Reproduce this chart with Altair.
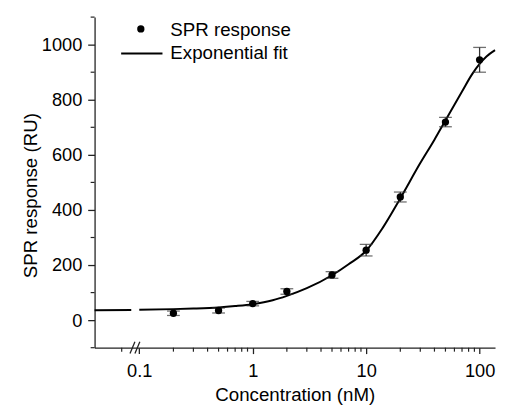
import altair as alt
import pandas as pd

# --- measured data ---
conc = [0.2, 0.5, 1, 2, 5, 10, 20, 50, 100]
resp = [25, 35, 60, 104, 164, 254, 447, 719, 945]
err = [8, 9, 8, 10, 12, 21, 18, 17, 45]

# exponential fit curve (two pieces around the axis break)
fit_x = [0.0404, 0.085,
         0.1, 0.2, 0.3, 0.5, 0.7, 1, 1.5, 2, 3, 5, 7, 10, 14, 20, 30, 40, 50, 70, 86, 100, 115, 136.8]
fit_y = [36, 37,
         38, 40, 42, 46, 51, 58, 72, 88, 116, 163, 203, 252, 335, 442, 570, 655, 725, 830, 893, 930, 957, 980]
fit_seg = ["a", "a"] + ["b"] * 22

x_major = [0.1, 1, 10, 100]
x_minor = [0.07, 0.2, 0.3, 0.4, 0.5, 0.6, 0.7, 0.8, 0.9,
           2, 3, 4, 5, 6, 7, 8, 9, 20, 30, 40, 50, 60, 70, 80, 90]
y_major = [0, 200, 400, 600, 800, 1000]
y_minor = [-100, 100, 300, 500, 700, 900, 1100]

W, H = 407, 336
FONT = "Liberation Sans"
AX = "#222222"

pts = pd.DataFrame({"conc": conc, "resp": resp, "err": err})
pts["lo"] = pts["resp"] - pts["err"]
pts["hi"] = pts["resp"] + pts["err"]
fit = pd.DataFrame({"conc": fit_x, "resp": fit_y, "seg": fit_seg})
xmin_df = pd.DataFrame({"v": x_minor})
ymin_df = pd.DataFrame({"v": y_minor})
one = pd.DataFrame({"a": [0]})

xscale = alt.Scale(type="log", domain=[0.04037, 136.8], nice=False)
yscale = alt.Scale(domain=[-100, 1100], nice=False)

xaxis = alt.Axis(values=x_major, format="~g", title="Concentration (nM)",
                 tickSize=6, labelPadding=8, titlePadding=6, grid=False)
yaxis = alt.Axis(values=y_major, format="d", title="SPR response (RU)", tickSize=7,
                 labelPadding=6, titlePadding=1, grid=False, titleY=181)

X = alt.X("conc:Q", scale=xscale, axis=xaxis)
Y = alt.Y("resp:Q", scale=yscale, axis=yaxis)

line = alt.Chart(fit).mark_line(color="black", strokeWidth=2, interpolate="monotone").encode(
    x=X, y=Y, detail="seg:N")

bars = alt.Chart(pts).mark_rule(color="#333333", strokeWidth=1.3).encode(
    x=alt.X("conc:Q", scale=xscale), y=alt.Y("lo:Q", scale=yscale), y2="hi:Q")
cap_hi = alt.Chart(pts).mark_tick(orient="horizontal", size=13, thickness=1.3, color="#333333").encode(
    x=alt.X("conc:Q", scale=xscale), y=alt.Y("hi:Q", scale=yscale))
cap_lo = alt.Chart(pts).mark_tick(orient="horizontal", size=13, thickness=1.3, color="#333333").encode(
    x=alt.X("conc:Q", scale=xscale), y=alt.Y("lo:Q", scale=yscale))
dots = alt.Chart(pts).mark_circle(size=55, color="black", opacity=1).encode(
    x=alt.X("conc:Q", scale=xscale), y=alt.Y("resp:Q", scale=yscale))

xminor = alt.Chart(xmin_df).mark_rule(color=AX, strokeWidth=1.2).encode(
    x=alt.X("v:Q", scale=xscale), y=alt.value(H), y2=alt.value(H + 4))
yminor = alt.Chart(ymin_df).mark_rule(color=AX, strokeWidth=1.2).encode(
    y=alt.Y("v:Q", scale=yscale), x=alt.value(-4), x2=alt.value(0))

brk1 = alt.Chart(one).mark_rule(color=AX, strokeWidth=1.3).encode(
    x=alt.value(36), x2=alt.value(41), y=alt.value(H + 6), y2=alt.value(H - 6))
brk2 = alt.Chart(one).mark_rule(color=AX, strokeWidth=1.3).encode(
    x=alt.value(41), x2=alt.value(46), y=alt.value(H + 6), y2=alt.value(H - 6))

leg_dot = alt.Chart(one).mark_circle(size=55, color="black", opacity=1).encode(
    x=alt.value(47), y=alt.value(12))
leg_t1 = alt.Chart(one).mark_text(align="left", baseline="middle", fontSize=19, font=FONT,
                                  color="black").encode(
    x=alt.value(77), y=alt.value(13), text=alt.value("SPR response"))
leg_line = alt.Chart(one).mark_rule(color="black", strokeWidth=2).encode(
    x=alt.value(27), x2=alt.value(69), y=alt.value(37))
leg_t2 = alt.Chart(one).mark_text(align="left", baseline="middle", fontSize=19, font=FONT,
                                  color="black").encode(
    x=alt.value(77), y=alt.value(37), text=alt.value("Exponential fit"))

chart = alt.layer(
    line, bars, cap_hi, cap_lo, dots, xminor, yminor, brk1, brk2,
    leg_dot, leg_t1, leg_line, leg_t2
).properties(
    width=W, height=H,
    autosize=alt.AutoSizeParams(type="none"),
    padding={"left": 88, "top": 6, "right": 2, "bottom": 56},
).configure_view(stroke=None).configure_axis(
    labelFont=FONT, titleFont=FONT, labelFontSize=18.5, titleFontSize=19,
    titleFontWeight="normal", labelColor="black", titleColor="black",
    domainColor=AX, tickColor=AX, domainWidth=1.3, tickWidth=1.3,
)

chart.save("out.html", embed_options={"renderer": "svg", "actions": False})
